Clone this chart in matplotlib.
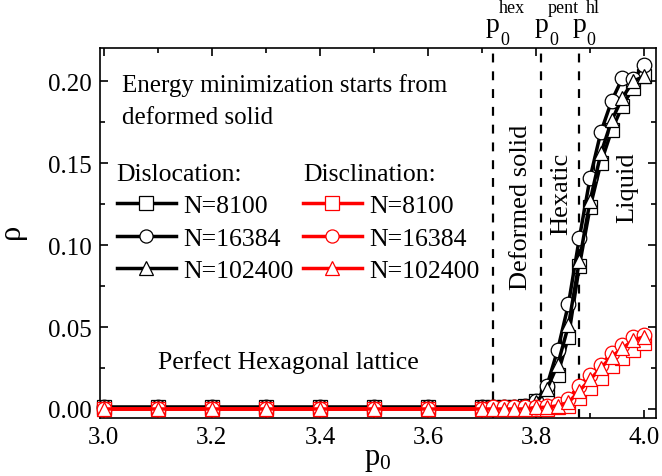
import matplotlib
matplotlib.use("Agg")
import matplotlib.pyplot as plt
from matplotlib.ticker import MultipleLocator, FormatStrFormatter
import matplotlib.transforms as mtransforms

plt.rcParams['font.family'] = ['Liberation Serif', 'DejaVu Serif']
plt.rcParams['font.serif'] = ['Liberation Serif']
plt.rcParams['mathtext.fontset'] = 'custom'
plt.rcParams['mathtext.rm'] = 'Liberation Serif'
plt.rcParams['mathtext.it'] = 'Liberation Serif:italic'

p0 = [3.0, 3.1, 3.2, 3.3, 3.4, 3.5, 3.6, 3.70, 3.72, 3.74, 3.76, 3.78, 3.80,
      3.82, 3.84, 3.86, 3.88, 3.90, 3.92, 3.94, 3.96, 3.98, 4.00]

disloc_8100 = [0.001, 0.001, 0.001, 0.001, 0.001, 0.001, 0.001, 0.001, 0.001, 0.001, 0.001, 0.002, 0.005,
               0.010, 0.021, 0.044, 0.087, 0.123, 0.150, 0.170, 0.185, 0.196, 0.203]
disloc_16384 = [0.001, 0.001, 0.001, 0.001, 0.001, 0.001, 0.001, 0.001, 0.001, 0.001, 0.001, 0.002, 0.005,
                0.014, 0.036, 0.064, 0.104, 0.141, 0.169, 0.188, 0.202, 0.201, 0.210]
disloc_102400 = [0.001, 0.001, 0.001, 0.001, 0.001, 0.001, 0.001, 0.001, 0.001, 0.001, 0.001, 0.002, 0.004,
                 0.012, 0.027, 0.051, 0.090, 0.127, 0.156, 0.176, 0.190, 0.200, 0.203]

discl_8100 = [0.0, 0.0, 0.0, 0.0, 0.0, 0.0, 0.0, 0.0, 0.0, 0.0, 0.0, 0.0, 0.0,
              0.0, 0.001, 0.002, 0.007, 0.013, 0.019, 0.026, 0.031, 0.036, 0.040]
discl_16384 = [0.0, 0.0, 0.0, 0.0, 0.0, 0.0, 0.0, 0.0, 0.001, 0.001, 0.001, 0.001, 0.001,
               0.002, 0.003, 0.006, 0.014, 0.021, 0.027, 0.034, 0.039, 0.044, 0.045]
discl_102400 = [0.0, 0.0, 0.0, 0.0, 0.0, 0.0, 0.0, 0.0, 0.0, 0.0, 0.0, 0.0, 0.001,
                0.001, 0.002, 0.004, 0.011, 0.018, 0.025, 0.032, 0.037, 0.042, 0.044]

sizes = ["N=8100", "N=16384", "N=102400"]
markers = ["s", "o", "^"]
transitions = [3.72, 3.81, 3.88]
transition_sups = ["hex", "pent", "hl"]

FONT = 'Liberation Serif'

fig = plt.figure(figsize=(6.62, 4.77), dpi=100)
ax = fig.add_axes([100/662, 1-419/477, 556/662, 370/477])

lw = 2.5
ms = 10.5
black_handles = []
for vals, m, lab in zip([disloc_8100, disloc_16384, disloc_102400], markers, sizes):
    h, = ax.plot(p0, vals, color='black', lw=lw, marker=m, ms=ms, mfc='white',
                 mec='black', mew=0.9, label=lab, clip_on=False, zorder=3)
    black_handles.append(h)
red_handles = []
for vals, m, lab in zip([discl_8100, discl_16384, discl_102400], markers, sizes):
    h, = ax.plot(p0, vals, color='red', lw=lw, marker=m, ms=ms, mfc='white',
                 mec='red', mew=0.9, label=lab, clip_on=False, zorder=4)
    red_handles.append(h)

for xv in transitions:
    ax.axvline(xv, color='black', lw=1.6, ls=(0, (4, 4)), zorder=2)

# transition labels p_0^{...}
trans = mtransforms.blended_transform_factory(ax.transData, ax.transAxes)
for xv, sup in zip(transitions, transition_sups):
    xl = xv - 0.013
    ax.text(xl, 1.045, "p", transform=trans, ha='left', va='baseline', fontsize=20, family=FONT)
    ax.text(xl + 0.027, 1.01, "0", transform=trans, ha='left', va='baseline', fontsize=13, family=FONT)
    ax.text(xl + 0.025, 1.098, sup, transform=trans, ha='left', va='baseline', fontsize=13, family=FONT)

ax.set_xlim(2.993, 4.022)
ax.set_ylim(-0.0055, 0.2202)
ax.xaxis.set_major_locator(MultipleLocator(0.2))
ax.xaxis.set_minor_locator(MultipleLocator(0.1))
ax.yaxis.set_major_locator(MultipleLocator(0.05))
ax.yaxis.set_minor_locator(MultipleLocator(0.025))
ax.xaxis.set_major_formatter(FormatStrFormatter('%.1f'))
ax.yaxis.set_major_formatter(FormatStrFormatter('%.2f'))
ax.tick_params(which='both', direction='in', top=True, right=True, labelsize=18, width=1.2,
               labelfontfamily=FONT)
ax.tick_params(which='major', length=6, pad=6)
ax.tick_params(which='minor', length=3.5)
for s in ax.spines.values():
    s.set_linewidth(1.2)

ax.set_xlabel(r"$\mathregular{p_0}$", fontsize=22, labelpad=-3)
ax.set_ylabel(r"$\mathregular{\rho}$", fontsize=22, labelpad=13)

ax.text(0.04, 0.858, "Energy minimization starts from\ndeformed solid", transform=ax.transAxes,
        fontsize=18, ha='left', va='center', linespacing=1.55, family=FONT)
ax.text(0.104, 0.154, "Perfect Hexagonal lattice", transform=ax.transAxes, fontsize=18.5,
        ha='left', va='center', family=FONT)
ax.text(0.757, 0.573, "Deformed solid", transform=ax.transAxes, fontsize=19, rotation=90,
        ha='center', va='center', family=FONT)
ax.text(0.829, 0.608, "Hexatic", transform=ax.transAxes, fontsize=19, rotation=90,
        ha='center', va='center', family=FONT)
ax.text(0.949, 0.624, "Liquid", transform=ax.transAxes, fontsize=19, rotation=90,
        ha='center', va='center', family=FONT)

leg_kw = dict(frameon=False, prop={'family': FONT, 'size': 18.5}, handlelength=2.3, handletextpad=0.3,
              labelspacing=0.36, borderpad=0, borderaxespad=0,
              title_fontproperties={'family': FONT, 'size': 18.5},
              alignment='left', loc='upper left', markerscale=0.9)
leg1 = ax.legend(handles=black_handles, title="Dislocation:",
                 bbox_to_anchor=(0.03, 0.689), **leg_kw)
ax.add_artist(leg1)
leg2 = ax.legend(handles=red_handles, title="Disclination:",
                 bbox_to_anchor=(0.365, 0.689), **leg_kw)

fig.savefig("out.png", dpi=100)
